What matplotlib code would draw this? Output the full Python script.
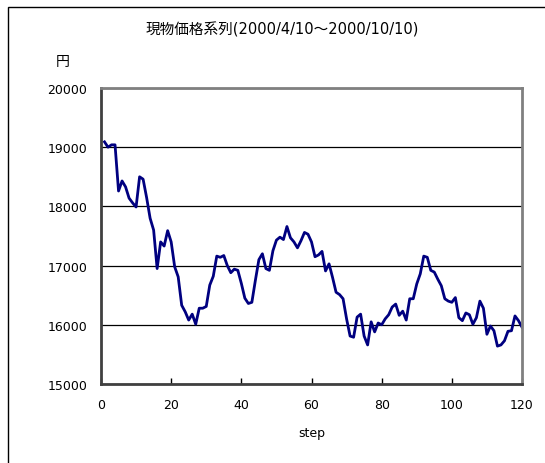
import matplotlib
matplotlib.use('Agg')
import matplotlib.pyplot as plt
from matplotlib.patches import Rectangle

plt.rcParams['font.family'] = ['DejaVu Sans', 'Noto Sans CJK JP']

# spot price series, one value per step (steps 1..120)
steps = list(range(1, 121))
prices = [
    19090, 19000, 19040, 19040, 18260, 18430, 18330, 18140, 18060, 17990,
    18500, 18460, 18150, 17800, 17600, 16950, 17400, 17330, 17590, 17400,
    16980, 16810, 16330, 16220, 16080, 16180, 16010, 16280, 16280, 16310,
    16670, 16820, 17160, 17140, 17170, 17000, 16880, 16940, 16920, 16700,
    16450, 16360, 16380, 16750, 17100, 17200, 16950, 16920, 17250, 17430,
    17480, 17440, 17660, 17470, 17400, 17300, 17420, 17560, 17530, 17400,
    17150, 17180, 17240, 16910, 17030, 16800, 16550, 16510, 16440, 16100,
    15810, 15790, 16130, 16180, 15810, 15660, 16050, 15880, 16030, 16000,
    16100, 16170, 16300, 16350, 16160, 16230, 16080, 16440, 16440, 16690,
    16860, 17160, 17140, 16920, 16890, 16770, 16660, 16440, 16400, 16380,
    16460, 16120, 16070, 16200, 16170, 16010, 16120, 16400, 16280, 15840,
    15980, 15900, 15640, 15660, 15730, 15890, 15900, 16150, 16070, 15960,
]
x_ticks = [0, 20, 40, 60, 80, 100, 120]
y_ticks = [15000, 16000, 17000, 18000, 19000, 20000]

W, H = 545, 464
fig = plt.figure(figsize=(W / 100, H / 100), dpi=100)
ax = fig.add_axes([101 / W, 1 - 385 / H, (522 - 101) / W, (385 - 89) / H])

# chart border
fig.patches.append(Rectangle((8 / W, -0.1), 1.2, 1 - 8 / H + 0.1,
                             transform=fig.transFigure, fill=False,
                             edgecolor='black', linewidth=1.0))

ax.plot(steps, prices, color='#000080', linewidth=2.0, solid_joinstyle='round')

ax.set_xlim(0, 120)
ax.set_ylim(15000, 20000)
ax.set_xticks(x_ticks)
ax.set_yticks(y_ticks)
ax.yaxis.grid(True, color='black', linewidth=0.9)
ax.set_axisbelow(True)

for side in ('top', 'right'):
    ax.spines[side].set_color('#808080')
    ax.spines[side].set_linewidth(2.0)
for side in ('left', 'bottom'):
    ax.spines[side].set_color('#404040')
    ax.spines[side].set_linewidth(2.0)

ax.tick_params(axis='both', direction='in', length=4, width=1.0, labelsize=9,
               colors='black')
ax.tick_params(axis='x', pad=10)
ax.tick_params(axis='y', pad=10, length=0)

ax.set_xlabel('step', fontsize=9, labelpad=11)
fig.text(282 / W, 1 - 30 / H, '現物価格系列(2000/4/10～2000/10/10)',
         ha='center', va='center', fontsize=10.5)
fig.text(63 / W, 1 - 62 / H, '円', ha='center', va='center', fontsize=10)

fig.savefig('out.png', dpi=100)
